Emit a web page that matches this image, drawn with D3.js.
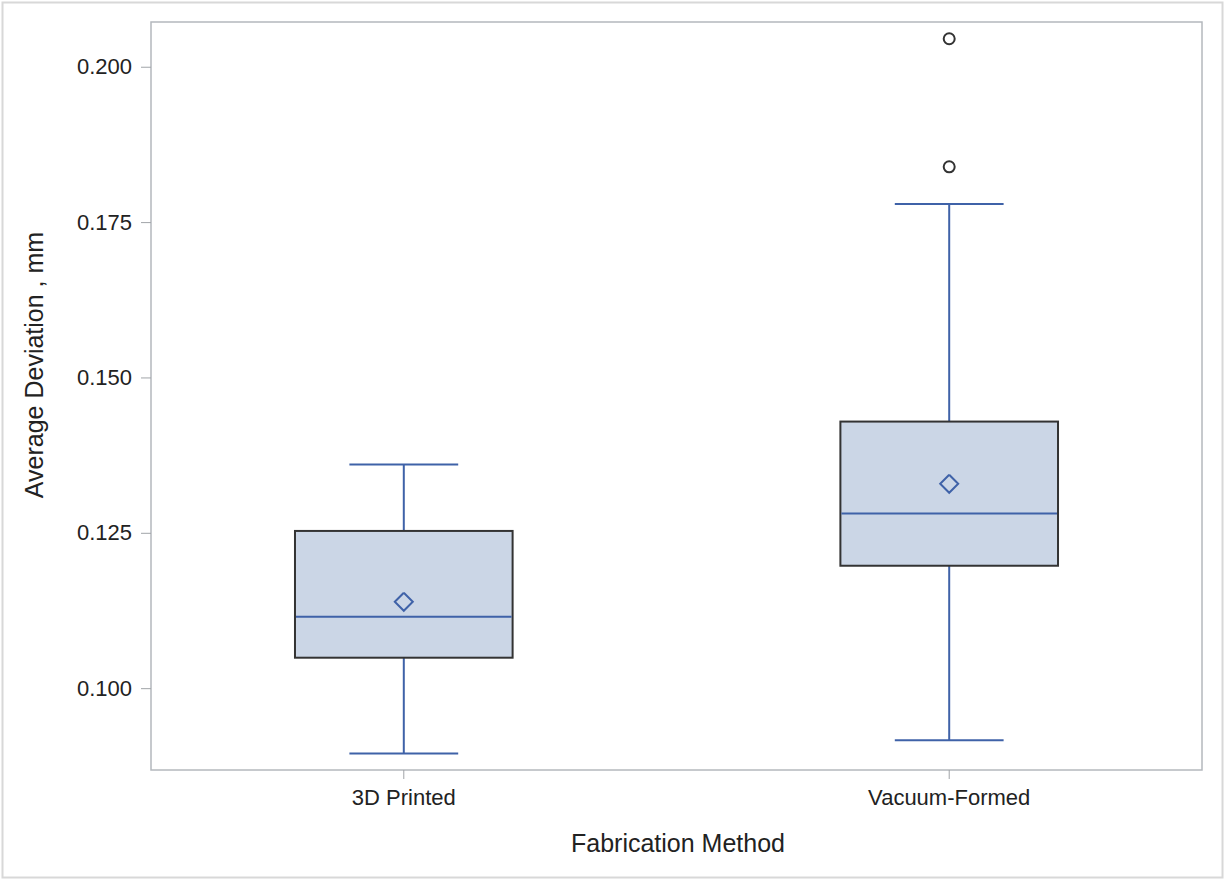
<!DOCTYPE html>
<html>
<head>
<meta charset="utf-8">
<script src="https://cdn.jsdelivr.net/npm/d3@7"></script>
<style>
  body { margin: 0; background: #fff; }
  text { font-family: "Liberation Sans", Arial, sans-serif; }
</style>
</head>
<body>
<script>
// values
var methods  = ["3D Printed", "Vacuum-Formed"];
var whiskLow = [0.0895, 0.0916];
var q1       = [0.1049, 0.1197];
var median   = [0.1115, 0.1281];
var q3       = [0.1253, 0.1429];
var whiskHi  = [0.1360, 0.1779];
var means    = [0.1139, 0.1329];
var outliers = [[], [0.2045, 0.1839]];
var yTicks   = [0.100, 0.125, 0.150, 0.175, 0.200];

var W = 1225, H = 880;
var svg = d3.select("body").append("svg").attr("width", W).attr("height", H);

// outer border
svg.append("rect").attr("x", 2.5).attr("y", 2.5).attr("width", 1220).attr("height", 875)
   .attr("fill", "none").attr("stroke", "#d8d8d8").attr("stroke-width", 2);

var pL = 151, pR = 1202, pT = 22, pB = 770;

var y = d3.scaleLinear().domain([0.08683, 0.2072]).range([pB, pT]);
var x = d3.scaleBand().domain(methods).range([pL, pR]).paddingInner(0.601).paddingOuter(0.264);

// frame
svg.append("rect").attr("x", pL).attr("y", pT).attr("width", pR - pL).attr("height", pB - pT)
   .attr("fill", "none").attr("stroke", "#b4b8bd").attr("stroke-width", 1.5);

// y axis
var yAx = svg.append("g").attr("transform", "translate(" + pL + ",0)")
   .call(d3.axisLeft(y).tickValues(yTicks).tickFormat(d3.format(".3f")).tickSize(10).tickPadding(9));
yAx.select(".domain").remove();
yAx.selectAll("line").attr("stroke", "#a0a4a8");
yAx.selectAll("text").attr("font-size", 22).attr("fill", "#222").style("font-family", "Liberation Sans, Arial, sans-serif");

// x axis
var xAx = svg.append("g").attr("transform", "translate(0," + pB + ")")
   .call(d3.axisBottom(x).tickSize(9).tickPadding(10));
xAx.select(".domain").remove();
xAx.selectAll("line").attr("stroke", "#a0a4a8");
xAx.selectAll("text").attr("font-size", 22).attr("fill", "#222").style("font-family", "Liberation Sans, Arial, sans-serif");

// axis titles
svg.append("text").attr("x", 678).attr("y", 852).attr("text-anchor", "middle")
   .attr("font-size", 25).attr("fill", "#222").text("Fabrication Method");
svg.append("text").attr("transform", "translate(43," + 365 + ") rotate(-90)").attr("text-anchor", "middle")
   .attr("font-size", 25).attr("fill", "#222").text("Average Deviation , mm");

var blue = "#3f62a8";
var g = svg.append("g");

methods.forEach(function (m, i) {
    var x0 = x(m), bw = x.bandwidth(), cx = x0 + bw / 2;

    // whiskers
    g.append("line").attr("x1", cx).attr("x2", cx).attr("y1", y(whiskHi[i])).attr("y2", y(q3[i]))
     .attr("stroke", blue).attr("stroke-width", 2);
    g.append("line").attr("x1", cx).attr("x2", cx).attr("y1", y(q1[i])).attr("y2", y(whiskLow[i]))
     .attr("stroke", blue).attr("stroke-width", 2);
    g.append("line").attr("x1", cx - bw / 4).attr("x2", cx + bw / 4).attr("y1", y(whiskHi[i])).attr("y2", y(whiskHi[i]))
     .attr("stroke", blue).attr("stroke-width", 2);
    g.append("line").attr("x1", cx - bw / 4).attr("x2", cx + bw / 4).attr("y1", y(whiskLow[i])).attr("y2", y(whiskLow[i]))
     .attr("stroke", blue).attr("stroke-width", 2);

    // box
    g.append("rect").attr("x", x0).attr("y", y(q3[i])).attr("width", bw).attr("height", y(q1[i]) - y(q3[i]))
     .attr("fill", "#cbd6e6").attr("stroke", "#333").attr("stroke-width", 2);

    // median
    g.append("line").attr("x1", x0 + 1).attr("x2", x0 + bw - 1).attr("y1", y(median[i])).attr("y2", y(median[i]))
     .attr("stroke", blue).attr("stroke-width", 2);

    // mean diamond
    var my = y(means[i]), r = 9;
    g.append("path").attr("d", d3.line()([[cx, my - r], [cx + r, my], [cx, my + r], [cx - r, my], [cx, my - r]]))
     .attr("fill", "none").attr("stroke", blue).attr("stroke-width", 2);

    // outliers
    g.selectAll(null).data(outliers[i]).enter().append("circle")
     .attr("cx", cx).attr("cy", d => y(d)).attr("r", 5.5)
     .attr("fill", "none").attr("stroke", "#333").attr("stroke-width", 2);
});
</script>
</body>
</html>
